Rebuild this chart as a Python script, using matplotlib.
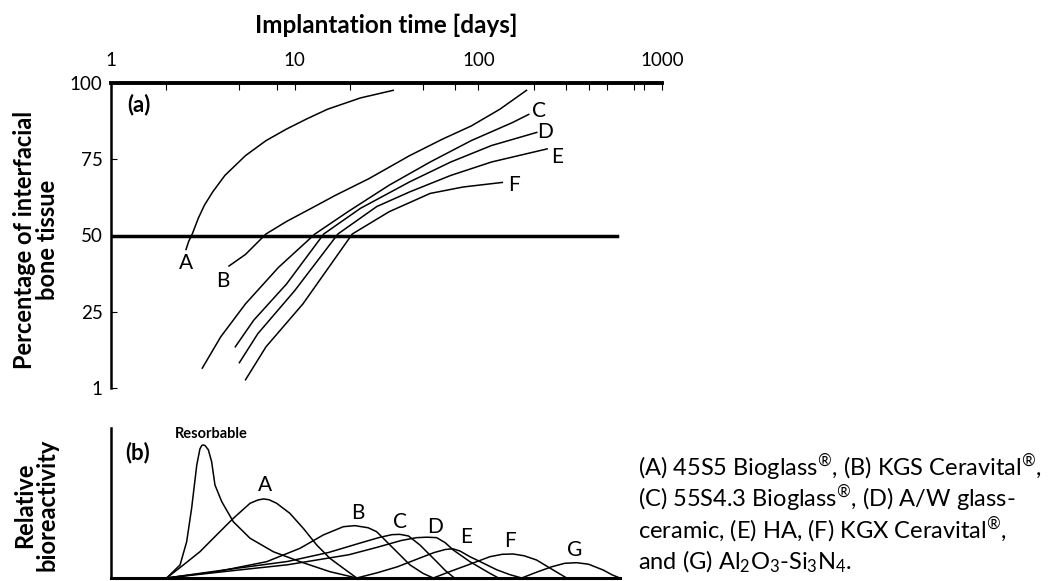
import matplotlib
matplotlib.use("Agg")
import matplotlib.pyplot as plt
import numpy as np

plt.rcParams['font.family'] = ['Lato', 'DejaVu Sans']

# ---- panel (a): percentage of interfacial bone tissue vs implantation time (days)
a_days = {
    'A': [2.56, 2.65, 2.77, 2.99, 3.23, 3.58, 4.17, 5.40, 6.98, 9.03, 11.7, 15.1, 22.8, 34.4],
    'B': [4.39, 5.40, 6.98, 9.03, 12.3, 16.7, 25.3, 42.3, 63.8, 91.4, 131, 183],
    'C': [3.14, 3.96, 5.40, 8.15, 12.9, 19.5, 32.7, 54.7, 91.4, 153, 188],
    'D': [4.75, 5.98, 9.03, 14.4, 22.8, 42.3, 70.8, 118, 208],
    'E': [5.00, 6.30, 10.0, 17.2, 28.0, 42.3, 70.8, 118, 237],
    'F': [5.40, 6.98, 11.1, 20.6, 32.7, 54.7, 82.6, 135],
}
a_pct = {
    'A': [45.4, 48.1, 50.5, 55.7, 60.0, 64.3, 69.7, 76.2, 81.1, 84.9, 88.3, 91.4, 95.1, 97.6],
    'B': [40.0, 43.8, 50.5, 54.6, 58.9, 63.2, 68.6, 76.2, 81.6, 85.9, 91.4, 97.6],
    'C': [6.5, 16.8, 27.6, 39.5, 50.5, 57.8, 66.5, 74.1, 81.1, 87.0, 89.7],
    'D': [13.5, 22.2, 34.1, 50.5, 58.9, 67.6, 74.1, 79.5, 83.8],
    'E': [8.3, 17.8, 31.9, 50.5, 59.5, 64.3, 69.7, 74.1, 78.4],
    'F': [2.7, 13.5, 27.6, 50.5, 57.8, 63.8, 65.9, 67.4],
}
a_labels = ['A', 'B', 'C', 'D', 'E', 'F']
a_label_x = [2.56, 4.06, 214, 231, 270, 157]
a_label_y = [41.1, 35.1, 90.8, 83.8, 75.7, 66.5]

top_ticks = [1, 10, 100, 1000]
top_minor = [2, 5, 8, 20, 50, 75, 200, 300, 400, 500, 700, 800]
y_ticks = [0, 25, 50, 75, 100]
y_ticklabels = ['1', '25', '50', '75', '100']

# ---- panel (b): relative bioreactivity, x in log10(days)
b_names = ['Resorbable', 'A', 'B', 'C', 'D', 'E', 'F', 'G']
b_logt = {
    'Resorbable': [.303, .376, .412, .439, .467, .484, .494, .502, .512, .530, .548, .566, .603, .666, .757, .884, 1.029, 1.192, 1.338],
    'A': [.303, .394, .484, .575, .666, .757, .800, .829, .860, .902, .974, 1.047, 1.120, 1.192, 1.265, 1.338],
    'B': [.303, .575, .848, 1.029, 1.156, 1.265, 1.328, 1.400, 1.446, 1.537, 1.628, 1.700, 1.755],
    'C': [.303, .625, .960, 1.184, 1.362, 1.460, 1.530, 1.573, 1.620, 1.682, 1.773, 1.820, 1.870],
    'D': [.303, .625, .960, 1.295, 1.450, 1.580, 1.664, 1.720, 1.773, 1.820, 1.863, 1.954, 2.063, 2.110],
    'E': [1.338, 1.450, 1.560, 1.675, 1.760, 1.820, 1.860, 1.900, 1.954, 2.010, 2.100, 2.170, 2.236],
    'F': [1.755, 1.850, 1.950, 2.063, 2.130, 2.190, 2.250, 2.317, 2.408, 2.481],
    'G': [2.236, 2.320, 2.400, 2.470, 2.535, 2.600, 2.680, 2.730, 2.771],
}
b_act = {
    'Resorbable': [0, 8.7, 24.2, 46.5, 75.3, 86.0, 88.3, 88.7, 88.3, 85.5, 77.5, 62.0, 50.9, 37.5, 26.5, 17.5, 10.9, 4.2, 0],
    'A': [0, 8.7, 17.5, 28.7, 39.8, 49.8, 52.0, 52.7, 52.2, 49.8, 43.1, 33.1, 22.0, 13.1, 6.5, 0],
    'B': [0, 4.2, 10.9, 19.8, 28.7, 34.2, 34.9, 33.5, 30.9, 19.8, 8.7, 3.0, 0],
    'C': [0, 5.5, 11.0, 17.0, 23.5, 27.0, 28.9, 29.1, 28.0, 22.0, 10.9, 5.0, 0],
    'D': [0, 4.4, 8.8, 15.5, 20.5, 25.0, 26.9, 27.2, 26.9, 23.5, 18.7, 10.9, 3.1, 0],
    'E': [0, 3.5, 7.5, 13.0, 17.0, 19.0, 19.5, 18.0, 14.2, 10.9, 5.5, 2.3, 0],
    'F': [0, 4.5, 9.0, 14.2, 15.8, 16.0, 14.8, 12.0, 5.3, 0],
    'G': [0, 4.0, 7.5, 9.8, 10.2, 9.2, 5.3, 2.0, 0],
}
b_label_x = [3.53, 6.89, 22.2, 37.4, 58.0, 86.3, 149, 336]
b_label_y = [95.8, 62.0, 43.1, 37.5, 34.2, 27.5, 24.9, 18.7]

R = r'$^{\mathregular{®}}$'
legend_lines = [
    '(A) 45S5 Bioglass' + R + ', (B) KGS Ceravital' + R + ',',
    '(C) 55S4.3 Bioglass' + R + ', (D) A/W glass-',
    'ceramic, (E) HA, (F) KGX Ceravital' + R + ',',
    r'and (G) Al$\mathregular{_2}$O$\mathregular{_3}$-Si$\mathregular{_3}$N$\mathregular{_4}$.',
]

W, H = 1055, 581
fig = plt.figure(figsize=(W / 100, H / 100), dpi=100)

# panel (a)
ax = fig.add_axes([111 / W, 1 - 388 / H, 551 / W, 305 / H])
ax.set_xscale('log')
ax.set_xlim(1, 1000)
ax.set_ylim(0, 100)
for k in a_labels:
    ax.plot(a_days[k], a_pct[k], color='black', lw=1.1, solid_joinstyle='round')
for lab, lx, ly in zip(a_labels, a_label_x, a_label_y):
    ax.text(lx, ly, lab, fontsize=15, ha='center', va='center')
ax.text(1.42, 93, '(a)', fontsize=16, fontweight='bold', ha='center', va='center')
ax.axhline(50, xmin=0, xmax=(617 - 111) / 551, color='black', lw=2.5)

ax.xaxis.tick_top()
ax.xaxis.set_label_position('top')
ax.set_xticks(top_ticks)
ax.set_xticklabels([str(t) for t in top_ticks], fontsize=13.5)
ax.set_xticks(top_minor, minor=True)
ax.xaxis.set_minor_formatter(plt.NullFormatter())
ax.tick_params(axis='x', which='both', direction='in', length=5, width=0.8, pad=10, top=True, bottom=False)
ax.set_yticks(y_ticks)
ax.set_yticklabels(y_ticklabels, fontsize=13.5)
ax.tick_params(axis='y', direction='in', length=4, width=0.8, pad=6)
ax.set_xlabel('Implantation time [days]', fontsize=17.5, fontweight='bold', labelpad=14)
for s in ['right', 'bottom']:
    ax.spines[s].set_visible(False)
ax.spines['top'].set_linewidth(2.8)
ax.spines['left'].set_linewidth(1.8)
fig.text(36 / W, 1 - 240 / H, 'Percentage of interfacial\nbone tissue', fontsize=17,
         fontweight='bold', rotation=90, ha='center', va='center', linespacing=1.0)

# panel (b)
bx = fig.add_axes([111 / W, 1 - 578 / H, 551 / W, 150 / H])
bx.set_xscale('log')
bx.set_xlim(1, 1000)
bx.set_ylim(0, 100)
for k in b_names:
    bx.plot(10 ** np.array(b_logt[k]), b_act[k], color='black', lw=1.1, solid_joinstyle='round')
for lab, lx, ly in zip(b_names, b_label_x, b_label_y):
    if lab == 'Resorbable':
        bx.text(lx, ly, lab, fontsize=10.5, fontweight='bold', ha='center', va='center')
    else:
        bx.text(lx, ly, lab, fontsize=15, ha='center', va='center')
bx.text(1.39, 83.5, '(b)', fontsize=16, fontweight='bold', ha='center', va='center')
bx.set_xticks([])
bx.set_xticks([], minor=True)
bx.set_yticks([])
for s in ['right', 'top']:
    bx.spines[s].set_visible(False)
bx.spines['bottom'].set_bounds(1, 590)
bx.spines['bottom'].set_linewidth(2.2)
bx.spines['left'].set_linewidth(1.8)
fig.text(36 / W, 1 - 505 / H, 'Relative\nbioreactivity', fontsize=17,
         fontweight='bold', rotation=90, ha='center', va='center', linespacing=1.0)

for i, line in enumerate(legend_lines):
    fig.text(638 / W, 1 - (467 + 31.5 * i) / H, line, fontsize=17, ha='left', va='center')

fig.savefig('out.png', dpi=100)
